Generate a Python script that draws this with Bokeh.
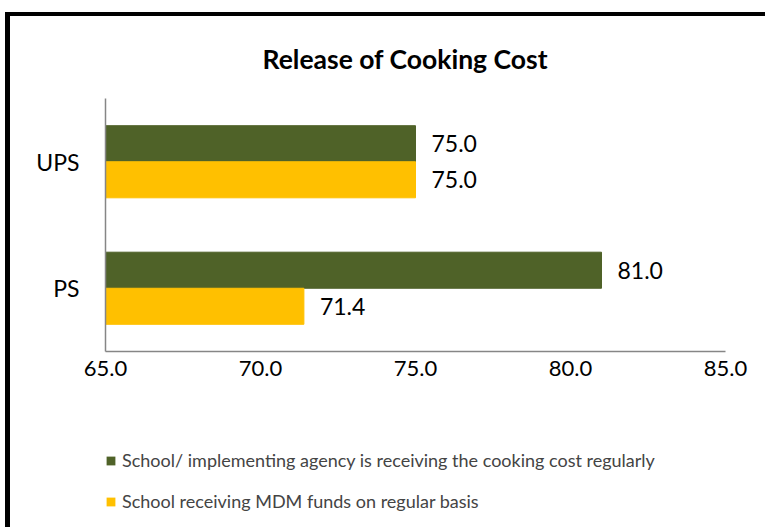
from bokeh.plotting import figure
from bokeh.models import (Range1d, FactorRange, FixedTicker, NumeralTickFormatter,
                          ColumnDataSource, Legend, LegendItem, Spacer)
from bokeh.layouts import column, row
from bokeh.transform import dodge
from bokeh.core.properties import value
from bokeh.embed import file_html
from bokeh.resources import INLINE

categories = ["PS", "UPS"]
series_names = ["School/ implementing agency is receiving the cooking cost regularly",
                "School receiving MDM funds on regular basis"]
cooking_cost_regular = [81.0, 75.0]
mdm_funds_regular = [71.4, 75.0]
x_ticks = [65, 70, 75, 80, 85]
title_text = "Release of Cooking Cost"

FONT = "Lato"
GREEN = "#4F6228"
YELLOW = "#FFC000"

src = ColumnDataSource(dict(
    cat=categories,
    a=cooking_cost_regular,
    b=mdm_funds_regular,
    a_lbl=[f"{v:.1f}" for v in cooking_cost_regular],
    b_lbl=[f"{v:.1f}" for v in mdm_funds_regular],
))

# ---- main chart -------------------------------------------------------------
p = figure(width=755, height=404, output_backend="svg", toolbar_location=None,
           x_range=Range1d(x_ticks[0], x_ticks[-1]), y_range=FactorRange(*categories),
           min_border_left=95, min_border_right=40, min_border_top=82, min_border_bottom=69)

p.title.text = title_text
p.title.align = "left"
p.title.offset = 157
p.title.text_font = FONT
p.title.text_font_size = "26.5px"
p.title.text_font_style = "bold"
p.title.text_color = "#000000"
p.title.standoff = 47

bw = 0.285
p.hbar(y=dodge("cat", bw / 2, range=p.y_range), left=x_ticks[0], right="a", height=bw,
       color=GREEN, source=src)
p.hbar(y=dodge("cat", -bw / 2, range=p.y_range), left=x_ticks[0], right="b", height=bw,
       color=YELLOW, source=src)

for col, lbl, off in (("a", "a_lbl", bw / 2), ("b", "b_lbl", -bw / 2)):
    p.text(x=col, y=dodge("cat", off, range=p.y_range), text=lbl, source=src,
           x_offset=16, text_baseline="middle", text_align="left",
           text_font=value(FONT), text_font_size="23px", text_color="#000000")

p.xaxis.ticker = FixedTicker(ticks=x_ticks)
p.xaxis.formatter = NumeralTickFormatter(format="0.0")
for ax in (p.xaxis, p.yaxis):
    ax.axis_line_color = "#868686"
    ax.axis_line_width = 1.5
    ax.major_tick_line_color = None
    ax.minor_tick_line_color = None
    ax.major_label_text_font = FONT
    ax.major_label_text_color = "#000000"
p.xaxis.major_label_text_font_size = "22px"
p.yaxis.major_label_text_font_size = "23px"
p.xaxis.major_label_standoff = 3
p.yaxis.major_label_standoff = 20

p.xgrid.grid_line_color = None
p.ygrid.grid_line_color = None
p.outline_line_color = None

# ---- legend strip under the chart -------------------------------------------
# key renderers use the same data but lie outside this strip's view; only their
# legend swatches are seen
lg = figure(width=755, height=107, output_backend="svg", toolbar_location=None,
            x_range=Range1d(1000, 1001), y_range=Range1d(1000, 1001),
            x_axis_type=None, y_axis_type=None, min_border=0)
lg.outline_line_color = None
k1 = lg.hbar(y="a", left=x_ticks[0], right="a", height=bw,
             fill_color=GREEN, line_color=None, source=src)
k2 = lg.hbar(y="b", left=x_ticks[0], right="b", height=bw,
             fill_color=YELLOW, line_color=None, source=src)
legend = Legend(items=[LegendItem(label=series_names[0], renderers=[k1]),
                       LegendItem(label=series_names[1], renderers=[k2])],
                location=(0, 15), orientation="vertical",
                glyph_width=11, glyph_height=11, label_height=20, spacing=19,
                label_text_font=FONT, label_text_font_size="18px", label_standoff=6,
                padding=0, margin=0, border_line_color=None, background_fill_alpha=0)
lg.add_layout(legend, "center")

# ---- black frame (top and left edges) ---------------------------------------
black = {"background-color": "#000000"}
layout = column(
    Spacer(width=765, height=12),
    row(Spacer(width=5, height=4), Spacer(width=760, height=4, styles=black)),
    row(Spacer(width=5, height=511), Spacer(width=5, height=511, styles=black),
        column(p, lg)),
)

open("out.html", "w").write(file_html(layout, INLINE))
